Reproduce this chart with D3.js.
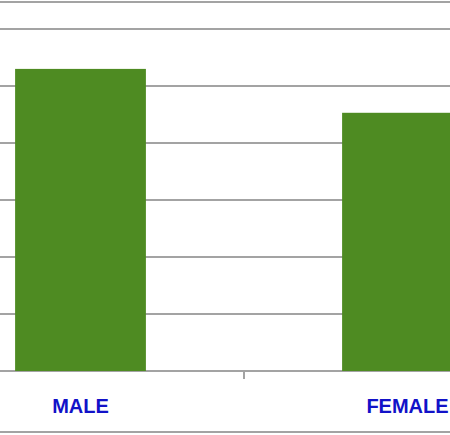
<!DOCTYPE html>
<html>
<head>
<meta charset="utf-8">
<script src="https://cdn.jsdelivr.net/npm/d3@7"></script>
<style>
  html, body { margin: 0; padding: 0; background: #fff; }
  svg { display: block; }
</style>
</head>
<body>
<svg id="chart" width="450" height="435"></svg>
<script>
const categories = ["MALE", "FEMALE"];
const values = [53, 45.3];
const gridTicks = [0, 10, 20, 30, 40, 50, 60];

const svg = d3.select("#chart");
const W = 450, H = 435;

const y = d3.scaleLinear().domain([0, 60]).range([371, 29]);
const x = d3.scaleBand().domain(categories).range([-83, 571]).paddingInner(0.6).paddingOuter(0.3);

const gridColor = "#a3a3a3";

// top and bottom frame lines
svg.append("line").attr("x1", 0).attr("x2", W).attr("y1", 2).attr("y2", 2)
  .attr("stroke", gridColor).attr("stroke-width", 2);
svg.append("line").attr("x1", 0).attr("x2", W).attr("y1", 432).attr("y2", 432)
  .attr("stroke", gridColor).attr("stroke-width", 2);

// gridlines
svg.append("g").selectAll("line").data(gridTicks).join("line")
  .attr("x1", 0).attr("x2", W)
  .attr("y1", d => y(d)).attr("y2", d => y(d))
  .attr("stroke", gridColor).attr("stroke-width", 2);

// bars
svg.append("g").selectAll("rect").data(categories).join("rect")
  .attr("x", d => x(d))
  .attr("width", x.bandwidth())
  .attr("y", (d, i) => y(values[i]))
  .attr("height", (d, i) => y(0) - y(values[i]))
  .attr("fill", "#4e8b22");

// tick between categories
const tickX = (x(categories[0]) + x.bandwidth() + x(categories[1])) / 2;
svg.append("line").attr("x1", tickX).attr("x2", tickX)
  .attr("y1", y(0)).attr("y2", y(0) + 8)
  .attr("stroke", gridColor).attr("stroke-width", 2);

// category labels
svg.append("g").selectAll("text").data(categories).join("text")
  .attr("x", d => x(d) + x.bandwidth() / 2)
  .attr("y", 413)
  .attr("text-anchor", "middle")
  .attr("font-family", "Liberation Sans, Arial, sans-serif")
  .attr("font-weight", "bold")
  .attr("font-size", 20)
  .attr("fill", "#1212c8")
  .text(d => d);
</script>
</body>
</html>
